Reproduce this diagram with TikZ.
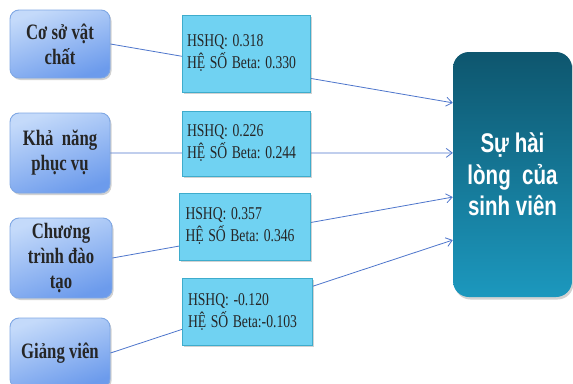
\documentclass[tikz,border=0pt]{standalone}
\usepackage{fontspec}
\usepackage{graphicx}
\setmainfont{Liberation Serif}
\newfontfamily\goalfont{Liberation Sans}
\usetikzlibrary{arrows.meta,shadows,calc}
\frenchspacing
% narrow every line horizontally
\newcommand\nar[1]{\scalebox{0.76}[1]{#1}}
\newcommand\factorstyle{\rmfamily\bfseries\fontsize{22}{25}\selectfont}
\newcommand\coefstyle{\rmfamily\fontsize{18}{22}\selectfont}
\newcommand\goalstyle{\goalfont\bfseries\fontsize{27}{31.5}\selectfont}

\definecolor{factortop}{RGB}{196,218,250}
\definecolor{factorbot}{RGB}{108,155,236}
\definecolor{factorline}{RGB}{128,168,228}
\definecolor{coefedge}{RGB}{112,210,242}
\definecolor{coefmid}{RGB}{200,239,252}
\definecolor{coefline}{RGB}{62,172,204}
\definecolor{goaltop}{RGB}{14,86,110}
\definecolor{goalbot}{RGB}{28,152,190}
\definecolor{linkcol}{RGB}{78,118,204}

\tikzset{
  factor/.style={draw=factorline, line width=0.9pt, rounded corners=9pt,
    top color=factortop, bottom color=factorbot, shading angle=20,
    minimum width=100pt, align=center, inner sep=2pt,
    font=\factorstyle, text=black!85,
    drop shadow={shadow xshift=1.5pt, shadow yshift=-2pt, opacity=0.35}},
  coef/.style={draw=coefline, line width=0.8pt,
    left color=coefedge, middle color=coefmid, right color=coefedge, shading angle=100,
    minimum width=128pt, text width=118pt, align=left, inner xsep=5pt,
    font=\coefstyle, text=black!85,
    drop shadow={shadow xshift=1.5pt, shadow yshift=-2pt, opacity=0.35}},
  goal/.style={rounded corners=16pt, top color=goaltop, bottom color=goalbot,
    minimum width=119pt, minimum height=245pt, align=center,
    font=\goalstyle, text=white,
    drop shadow={shadow xshift=1.5pt, shadow yshift=-2.5pt, opacity=0.35}},
  link/.style={draw=linkcol, line width=0.8pt,
    -{Straight Barb[length=6pt,width=9pt]}}
}

\begin{document}
\begin{tikzpicture}[x=1pt,y=-1pt]
\useasboundingbox[fill=white] (0,0) rectangle (573,383);

% factors on the left
\node[factor, minimum height=68pt] (f1) at (60,44) {\nar{Cơ sở vật}\\\nar{chất}};
\node[factor, minimum height=80pt] (f2) at (60,153) {\nar{Khả\ \ năng}\\\nar{phục vụ}};
\node[factor, minimum height=80pt, minimum width=102pt] (f3) at (61,258) {\nar{Chương}\\\nar{trình đào}\\\nar{tạo}};
\node[factor, minimum height=70pt] (f4) at (60,353) {\nar{Giảng viên}};

% outcome box
\node[goal] (g) at (512.5,174.5) {\nar{Sự hài}\\\nar{lòng\ \ của}\\\nar{sinh\ viên}};

% arrow end points on the outcome box
\coordinate (t1) at ($(g.north west)!0.208!(g.south west)$);
\coordinate (t2) at ($(g.north west)!0.412!(g.south west)$);
\coordinate (t3) at ($(g.north west)!0.592!(g.south west)$);
\coordinate (t4) at ($(g.north west)!0.767!(g.south west)$);

% links
\draw[link] (f1.east) -- (t1);
\draw[link] (f2.east) -- (t2);
\draw[link] (f3.east) -- (t3);
\draw[link] (f4.east) -- (t4);

% coefficient boxes over the links
\node[coef, minimum height=77pt] (c1) at (246,53.5) {\nar{HSHQ: 0.318}\\\nar{HỆ SỐ Beta: 0.330}};
\node[coef, minimum height=65pt] (c2) at (246,143.5) {\nar{HSHQ: 0.226}\\\nar{HỆ SỐ Beta: 0.244}};
\node[coef, minimum height=67pt, minimum width=131pt] (c3) at (244.5,226.5) {\nar{HSHQ: 0.357}\\\nar{HỆ SỐ Beta: 0.346}};
\node[coef, minimum height=67pt, minimum width=130pt] (c4) at (247,311.5) {\nar{HSHQ: -0.120}\\\nar{HỆ SỐ Beta:-0.103}};
\end{tikzpicture}
\end{document}
